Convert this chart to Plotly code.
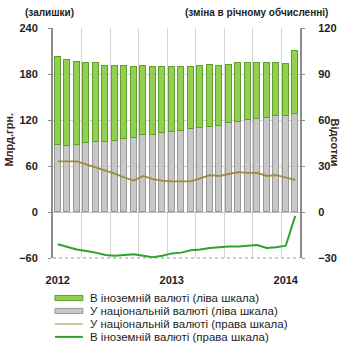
import plotly.graph_objects as go

# Monthly points, Jan 2012 .. Feb 2014
months = list(range(26))
year_ticks = [0, 12, 24]
year_labels = ["2012", "2013", "2014"]

# Stocks, bn UAH (left scale)
national_stock = [87.5, 86.5, 88, 89.5, 91, 91.5, 93, 95, 96, 100, 101, 102.5, 104,
                  105.5, 108, 109, 111.5, 112.5, 115.5, 117, 120, 121.5, 123, 125.5, 125.5, 128]
foreign_stock = [114.5, 111.5, 107.5, 104.5, 103, 99, 97.5, 95.5, 93.5, 90.5, 88.5, 86, 84.5,
                 83, 80.5, 81, 80, 77.5, 76, 77, 74, 73.5, 71, 68.5, 67.5, 82]

# Year-on-year change, % (right scale)
national_yoy = [33, 33, 33, 31, 29, 26.5, 25, 22.5, 20.5, 23.5, 21.5, 20.5, 20,
                20, 20, 22, 24, 23.5, 25, 26, 25.5, 25.5, 23.5, 24, 22.5, 21]
foreign_yoy = [-21, -23, -24.5, -25.5, -26.5, -28, -28.5, -28, -27.5, -28.5, -29.5, -28.5, -27,
               -26.5, -25, -24.5, -23.5, -23, -22.5, -22.5, -22, -21.5, -23.5, -23, -22, -2.5]

names = [
    "В іноземній валюті (ліва шкала)",
    "У національній валюті (ліва шкала)",
    "У національній валюті (права шкала)",
    "В іноземній валюті (права шкала)",
]

GREEN_FILL = "#92d050"
GREEN_EDGE = "#5f9e2f"
GRAY_FILL = "#c8c8c8"
GRAY_EDGE = "#9a9a9a"
BROWN = "#a08a3a"
GREEN_LINE = "#2ea22e"
TXT = "#1e1e1e"
FONT = "Liberation Sans"

fig = go.Figure()
fig.add_trace(go.Bar(x=months, y=national_stock, name=names[1], width=0.62,
                     marker=dict(color=GRAY_FILL, line=dict(color=GRAY_EDGE, width=1))))
fig.add_trace(go.Bar(x=months, y=foreign_stock, name=names[0], width=0.62,
                     marker=dict(color=GREEN_FILL, line=dict(color=GREEN_EDGE, width=1))))
fig.add_trace(go.Scatter(x=months, y=national_yoy, name=names[2], yaxis="y2", mode="lines",
                         line=dict(color=BROWN, width=1.8)))
fig.add_trace(go.Scatter(x=months, y=foreign_yoy, name=names[3], yaxis="y2", mode="lines",
                         line=dict(color=GREEN_LINE, width=2)))

# quarter separators
quarter_lines = [m - 0.5 for m in months if m > 0 and m % 3 == 0]

tickfont = dict(family=FONT, size=11, color=TXT, weight="bold")

fig.update_layout(
    width=349, height=346,
    margin=dict(l=53, r=49, t=28, b=88),
    paper_bgcolor="white", plot_bgcolor="white",
    barmode="stack", bargap=0,
    showlegend=False,
    xaxis=dict(range=[-0.5, 25.5], tickmode="array", tickvals=year_ticks, ticktext=year_labels,
               showgrid=False, zeroline=False, showline=False, ticks="",
               tickfont=tickfont, ticklabelstandoff=14,
               minor=dict(tickmode="array", tickvals=quarter_lines, showgrid=True,
                          gridcolor="#d4d4d4", gridwidth=1, ticks="")),
    yaxis=dict(range=[-60, 240], tickmode="linear", tick0=-60, dtick=60,
               showgrid=True, gridcolor="#d0d0d0", gridwidth=1,
               zeroline=True, zerolinecolor="#c0c0c0", zerolinewidth=1,
               showline=True, linecolor="#8c8c8c", linewidth=2,
               ticks="outside", ticklen=3, tickcolor="#8c8c8c",
               tickfont=tickfont, ticklabelstandoff=8),
    yaxis2=dict(range=[-30, 120], tickmode="linear", tick0=-30, dtick=30,
                overlaying="y", side="right", showgrid=False, zeroline=False,
                showline=True, linecolor="#8c8c8c", linewidth=2,
                ticks="outside", ticklen=3, tickcolor="#8c8c8c",
                tickfont=tickfont, ticklabelstandoff=11),
)

# dotted baseline at the bottom of the plot
fig.add_shape(type="line", xref="paper", yref="paper", x0=0, x1=1, y0=0, y1=0,
              line=dict(color="#9a9a9a", width=1, dash="dot"))


def note(text, x, y, font, angle=0):
    fig.add_annotation(text=text, xref="paper", yref="paper", x=x, y=y,
                       xanchor="center", yanchor="middle", textangle=angle,
                       showarrow=False, font=font)


ann_font = dict(family=FONT, size=10, color=TXT, weight="bold")
title_font = dict(family=FONT, size=11, color="#3a2418", weight="bold")
note("(залишки)", -0.016, 1.068, ann_font)
note("(зміна в річному обчисленні)", 0.824, 1.068, ann_font)
note("Млрд.грн.", -0.18, 0.513, title_font, -90)
note("Відсотки", 1.14, 0.504, title_font, 90)

# legend block drawn below the plot
legend_rows = [-0.174, -0.230, -0.287, -0.343]
sw_x0, sw_x1, txt_x = 0.008, 0.121, 0.142
legend_font = dict(family=FONT, size=11.5, color=TXT)
for i, (yy, label) in enumerate(zip(legend_rows, names)):
    if i == 0:
        fig.add_shape(type="rect", xref="paper", yref="paper", x0=sw_x0, x1=sw_x1,
                      y0=yy - 0.011, y1=yy + 0.011, fillcolor=GREEN_FILL,
                      line=dict(color=GREEN_EDGE, width=1))
    elif i == 1:
        fig.add_shape(type="rect", xref="paper", yref="paper", x0=sw_x0, x1=sw_x1,
                      y0=yy - 0.011, y1=yy + 0.011, fillcolor=GRAY_FILL,
                      line=dict(color=GRAY_EDGE, width=1))
    else:
        col, w = (BROWN, 1) if i == 2 else (GREEN_LINE, 2)
        fig.add_shape(type="line", xref="paper", yref="paper", x0=sw_x0, x1=sw_x1,
                      y0=yy, y1=yy, line=dict(color=col, width=w))
    fig.add_annotation(text=label, xref="paper", yref="paper", x=txt_x, y=yy,
                       xanchor="left", yanchor="middle", showarrow=False, font=legend_font)

fig.write_html("out.html")
